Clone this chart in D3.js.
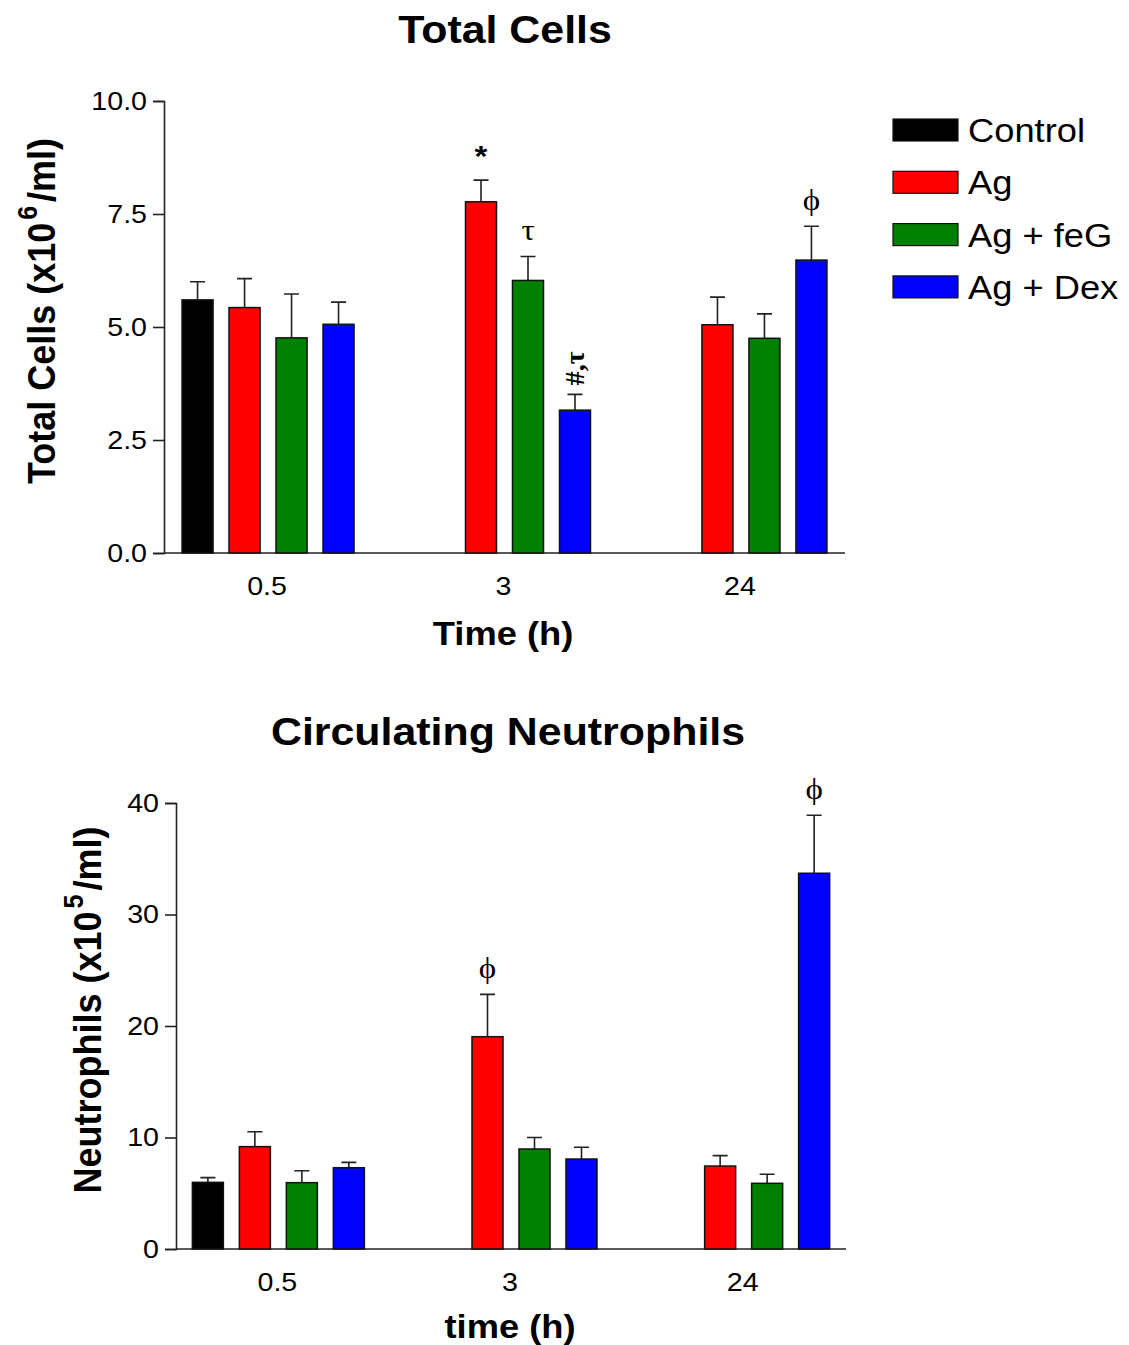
<!DOCTYPE html>
<html>
<head>
<meta charset="utf-8">
<script src="https://cdn.jsdelivr.net/npm/d3@7"></script>
<style>
  body { margin: 0; background: #fff; }
  text { font-family: "Liberation Sans", Arial, sans-serif; fill: #000; }
</style>
</head>
<body>
<div id="chart"></div>
<script>
// data
const groups = ["0.5", "3", "24"];
const series = ["Control", "Ag", "Ag + feG", "Ag + Dex"];
const colors = ["#000000", "#ff0000", "#008000", "#0000ff"];

// Total cells (x10^6/ml): mean and upper SEM, per group, per series
const totalMean = [[5.60, 5.43, 4.76, 5.06], [null, 7.77, 6.03, 3.16], [null, 5.05, 4.75, 6.48]];
const totalSem  = [[0.40, 0.64, 0.97, 0.49], [null, 0.48, 0.53, 0.35], [null, 0.61, 0.54, 0.75]];
const totalTicks = [0, 2.5, 5, 7.5, 10];

// Circulating neutrophils (x10^5/ml)
const neutMean = [[5.98, 9.18, 5.95, 7.29], [null, 19.04, 8.97, 8.07], [null, 7.44, 5.89, 33.7]];
const neutSem  = [[0.42, 1.34, 1.07, 0.48], [null, 3.80, 1.03, 1.05], [null, 0.93, 0.81, 5.20]];
const neutTicks = [0, 10, 20, 30, 40];

// significance marks: [group index, series index, symbol, rotated]
const totalMarks = [[1, 1, "*", false], [1, 2, "\u03c4", false], [1, 3, "#,\u03c4", true], [2, 3, "\u03d5", false]];
const neutMarks  = [[1, 1, "\u03d5", false], [2, 3, "\u03d5", false]];

const W = 1129, H = 1345, SX = 1.1;

const svg = d3.select("#chart").append("svg")
    .attr("width", W)
    .attr("height", H);

// horizontally stretched text, like the original raster
function label(g, x, y, str, size, weight, anchor) {
  return g.append("text")
    .attr("transform", `translate(${x},${y}) scale(${SX},1)`)
    .attr("text-anchor", anchor || "middle")
    .style("font-size", size + "px")
    .style("font-weight", weight || "normal")
    .text(str);
}

function drawPanel(cfg) {
  const g = svg.append("g");

  const x0 = d3.scalePoint().domain(groups).range([cfg.left, cfg.right]).padding(0.44);
  const x1 = d3.scaleBand().domain(series).range([-86, 86]).paddingInner(0.34);
  const y = d3.scaleLinear().domain(cfg.domain).range([cfg.bottom, cfg.top]);

  // y axis
  const ya = g.append("g")
      .attr("transform", `translate(${cfg.left},0)`)
      .call(d3.axisLeft(y).tickValues(cfg.ticks).tickFormat(cfg.fmt).tickSize(11).tickPadding(5));
  ya.select(".domain").attr("stroke", "#222").attr("stroke-width", 1.6);
  ya.selectAll(".tick line").attr("stroke", "#222").attr("stroke-width", 1.6);
  ya.selectAll(".tick text")
      .attr("transform", `scale(${SX},1)`)
      .attr("x", -17 / SX)
      .style("font-size", "26px")
      .style("font-family", "Liberation Sans, Arial, sans-serif")
      .attr("fill", "#000");

  // x axis line, no ticks
  g.append("line")
      .attr("x1", cfg.left).attr("x2", cfg.right)
      .attr("y1", y(0)).attr("y2", y(0))
      .attr("stroke", "#222").attr("stroke-width", 1.6);

  groups.forEach(gr => {
    label(g, x0(gr) - 1, cfg.bottom + 42, gr, 26);
  });

  // bars
  const rows = [];
  groups.forEach((gr, gi) => series.forEach((s, si) => {
    const v = cfg.mean[gi][si];
    if (v != null) rows.push({ gr, s, si, v, e: cfg.sem[gi][si] });
  }));

  const bx = d => x0(d.gr) + x1(d.s);

  // error bars (upper only)
  g.selectAll(".err").data(rows).enter().append("path")
      .attr("d", d => {
        const cx = bx(d) + x1.bandwidth() / 2, yt = y(d.v + d.e);
        return `M${cx},${y(d.v)}V${yt}M${cx - 7.5},${yt}H${cx + 7.5}`;
      })
      .attr("fill", "none").attr("stroke", "#222").attr("stroke-width", 1.6);

  g.selectAll(".bar").data(rows).enter().append("rect")
      .attr("x", bx)
      .attr("y", d => y(d.v))
      .attr("width", x1.bandwidth())
      .attr("height", d => y(0) - y(d.v))
      .attr("fill", d => colors[d.si])
      .attr("stroke", "#111").attr("stroke-width", 1.5);

  // significance marks
  cfg.marks.forEach(([gi, si, sym, rot]) => {
    const cx = x0(groups[gi]) + x1(series[si]) + x1.bandwidth() / 2;
    const yt = y(cfg.mean[gi][si] + cfg.sem[gi][si]);
    if (rot) {
      g.append("text")
        .attr("transform", `translate(${cx + 9},${yt - 9}) rotate(-90)`)
        .style("font-size", "28px")
        .style("font-family", "Liberation Serif, serif")
        .style("font-weight", "bold")
        .text(sym);
    } else if (sym === "*") {
      label(g, cx, yt - 14, sym, 30, "bold");
    } else {
      label(g, cx, yt - 16, sym, 30).style("font-family", "Liberation Serif, DejaVu Serif, serif");
    }
  });

  // titles
  label(g, cfg.titleX, cfg.titleY, cfg.title, 39, "bold");
  label(g, cfg.xLabelX, cfg.xLabelY, cfg.xLabel, 33, "bold");

  const yl = g.append("text")
      .attr("transform", `translate(${cfg.yLabelX},${cfg.yLabelY}) rotate(-90) scale(1,${SX})`)
      .attr("text-anchor", "middle")
      .style("font-size", cfg.yLabelSize + "px")
      .style("font-weight", "bold");
  yl.append("tspan").text(cfg.yLabel[0]);
  yl.append("tspan").attr("dx", 3).attr("dy", -16).style("font-size", "25px").text(cfg.yLabel[1]);
  yl.append("tspan").attr("dx", 4).attr("dy", 16).text(cfg.yLabel[2]);

  return { x0, x1, y };
}

drawPanel({
  left: 164, right: 845, top: 101, bottom: 553,
  domain: [0, 10], ticks: totalTicks, fmt: d3.format(".1f"),
  mean: totalMean, sem: totalSem, marks: totalMarks,
  title: "Total Cells", titleX: 505, titleY: 43,
  xLabel: "Time (h)", xLabelX: 503, xLabelY: 645,
  yLabel: ["Total Cells (x10", "6", "/ml)"], yLabelX: 55, yLabelY: 311, yLabelSize: 36
});

drawPanel({
  left: 176, right: 846, top: 803, bottom: 1249,
  domain: [0, 40], ticks: neutTicks, fmt: d3.format("d"),
  mean: neutMean, sem: neutSem, marks: neutMarks,
  title: "Circulating Neutrophils", titleX: 508, titleY: 745,
  xLabel: "time (h)", xLabelX: 510, xLabelY: 1338,
  yLabel: ["Neutrophils (x10", "5", "/ml)"], yLabelX: 101, yLabelY: 1010, yLabelSize: 36
});

// legend
const leg = svg.append("g");
series.forEach((s, i) => {
  const cy = 130 + i * 52.3;
  leg.append("rect")
    .attr("x", 893).attr("y", cy - 11)
    .attr("width", 65).attr("height", 22)
    .attr("fill", colors[i])
    .attr("stroke", "#111").attr("stroke-width", 1.2);
  label(leg, 968, cy + 12, s, 33, "normal", "start");
});
</script>
</body>
</html>
